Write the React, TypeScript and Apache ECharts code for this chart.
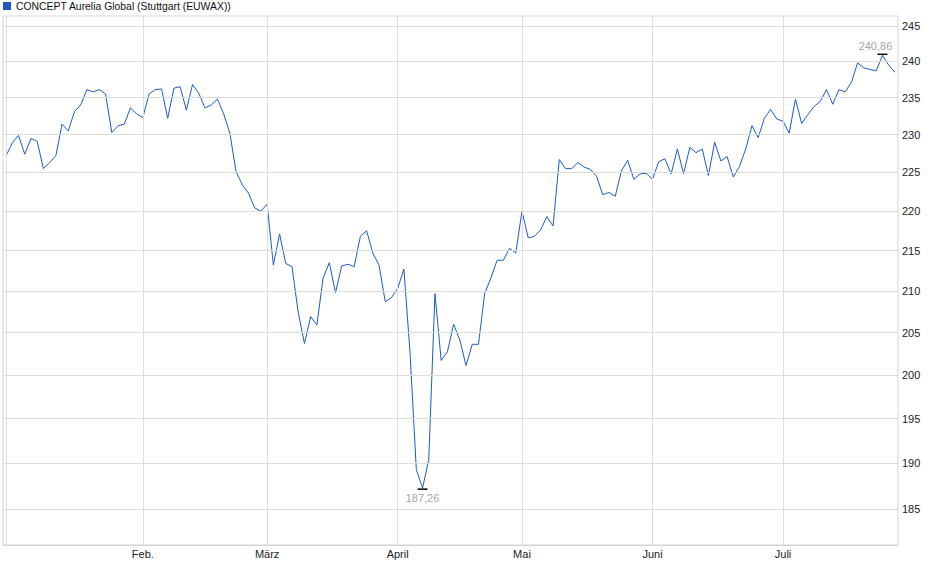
import React, { useEffect, useRef } from 'react';
import * as echarts from 'echarts';

const seriesName = 'CONCEPT Aurelia Global (Stuttgart (EUWAX))';

// trading days (Stuttgart) from 2 Jan to 25 Jul 2025
const holidays = ['2025-01-01', '2025-04-18', '2025-04-21', '2025-05-01'];
const monthLabels = ['', 'Feb.', 'März', 'April', 'Mai', 'Juni', 'Juli'];
const yTicks = [185, 190, 195, 200, 205, 210, 215, 220, 225, 230, 235, 240, 245];

const prices = [
  227.2, 228.9, 229.9, 227.4, 229.5, 229.1, 225.5, 226.3, 227.2, 231.4,
  230.5, 233.1, 234.0, 236.1, 235.8, 236.1, 235.5, 230.3, 231.2, 231.4,
  233.6, 232.8, 232.3, 235.5, 236.1, 236.2, 232.2, 236.3, 236.5, 233.3,
  236.8, 235.6, 233.6, 234.0, 234.8, 232.8, 230.2, 225.1, 223.4, 222.3,
  220.4, 220.0, 220.9, 213.2, 217.1, 213.4, 213.0, 207.4, 203.7, 206.9,
  205.9, 211.6, 213.5, 209.8, 213.1, 213.3, 213.0, 216.8, 217.5, 214.7,
  213.2, 208.7, 209.2, 210.3, 212.7, 202.5, 189.3, 187.26, 190.4, 209.7,
  201.7, 202.7, 206.0, 204.1, 201.1, 203.6, 203.6, 209.7, 211.6, 213.8,
  213.8, 215.3, 214.7, 220.0, 216.6, 216.8, 217.6, 219.3, 218.1, 226.7,
  225.5, 225.5, 226.3, 225.7, 225.4, 224.5, 222.1, 222.4, 221.9, 225.2,
  226.6, 224.1, 224.8, 224.9, 224.1, 226.4, 226.8, 224.8, 228.1, 224.8,
  228.3, 227.6, 228.1, 224.6, 229.0, 226.5, 227.1, 224.4, 225.8, 228.1,
  231.2, 229.6, 232.2, 233.4, 232.1, 231.8, 230.2, 234.8, 231.5, 232.7,
  233.8, 234.5, 236.1, 234.1, 236.1, 235.8, 237.1, 239.8, 239.1, 238.9,
  238.7, 240.86, 239.5, 238.5,
];

function tradingDays(from: string, to: string): string[] {
  const out: string[] = [];
  const d = new Date(from + 'T00:00:00Z');
  const end = new Date(to + 'T00:00:00Z');
  while (d <= end) {
    const iso = d.toISOString().slice(0, 10);
    const wd = d.getUTCDay();
    if (wd !== 0 && wd !== 6 && !holidays.includes(iso)) out.push(iso);
    d.setUTCDate(d.getUTCDate() + 1);
  }
  return out;
}

const dates = tradingDays('2025-01-02', '2025-07-25');

// first trading day of each month
const monthStarts: number[] = [];
dates.forEach((d, i) => {
  if (i === 0 || d.slice(5, 7) !== dates[i - 1].slice(5, 7)) monthStarts.push(i);
});

const FONT = "'Liberation Sans', Arial, sans-serif";
const GRID_COLOR = '#dcdcdc';
const LINE_COLOR = '#1c5bc4';

const fmt = (v: number) => v.toFixed(2).replace('.', ',');

const App: React.FC = () => {
  const chartRef = useRef<HTMLDivElement>(null);

  useEffect(() => {
    const chart = echarts.init(chartRef.current!, undefined, { renderer: 'svg' });

    const gridLines: any[] = [
      ...yTicks.map((v) => ({
        yAxis: v,
        label: {
          show: true,
          position: 'end',
          distance: 4,
          color: '#222',
          fontSize: 11,
          fontFamily: FONT,
          formatter: String(v),
        },
      })),
      ...monthStarts.map((i) => ({ xAxis: dates[i], label: { show: false } })),
    ];

    const option: echarts.EChartsOption = {
      animation: false,
      textStyle: { fontFamily: FONT },
      legend: {
        data: [seriesName],
        left: 3,
        top: 1,
        padding: 0,
        icon: 'rect',
        itemWidth: 8,
        itemHeight: 8,
        itemGap: 4,
        textStyle: { fontSize: 10.4, color: '#111', fontFamily: FONT },
      },
      grid: {
        left: 3,
        right: 42,
        top: 16,
        bottom: 34,
        show: true,
        borderColor: '#d4d4d4',
        borderWidth: 1,
        containLabel: false,
      },
      xAxis: {
        type: 'category',
        data: dates,
        boundaryGap: true,
        axisLine: { show: true, lineStyle: { color: '#d4d4d4' } },
        axisTick: { show: false },
        splitLine: { show: false },
        axisLabel: {
          interval: (i: number) => monthStarts.includes(i) && monthLabels[monthStarts.indexOf(i)] !== '',
          formatter: (_v: string, i: number) => monthLabels[monthStarts.indexOf(i)] || '',
          color: '#222',
          fontSize: 11,
          fontFamily: FONT,
          margin: 3,
        },
      },
      yAxis: {
        type: 'log',
        position: 'right',
        min: 181.17,
        max: 246.43,
        axisLine: { show: false },
        axisTick: { show: false },
        axisLabel: { show: false },
        splitLine: { show: false },
      },
      series: [
        {
          name: 'grid',
          type: 'line',
          data: prices,
          symbol: 'none',
          silent: true,
          z: 1,
          lineStyle: { opacity: 0 },
          markLine: {
            silent: true,
            symbol: ['none', 'none'],
            lineStyle: { color: GRID_COLOR, type: 'solid', width: 1 },
            data: gridLines,
          },
        },
        {
          name: seriesName,
          type: 'line',
          data: prices,
          symbol: 'none',
          z: 3,
          color: LINE_COLOR,
          lineStyle: { color: LINE_COLOR, width: 1 },
          markPoint: {
            silent: true,
            symbol: 'rect',
            symbolSize: [10, 1.5],
            itemStyle: { color: '#000' },
            label: {
              color: '#a9a39b',
              fontSize: 11,
              fontFamily: FONT,
              formatter: (p: any) => fmt(p.value),
            },
            data: [
              { type: 'max', symbolOffset: [0, -1], label: { position: 'top', distance: 2, offset: [-7, 0] } },
              { type: 'min', symbolOffset: [0, 1], label: { position: 'bottom', distance: 3 } },
            ],
          },
        },
      ],
    };

    chart.setOption(option);

    return () => {
      chart.dispose();
    };
  }, []);

  return (
    <div
      ref={chartRef}
      style={{ position: 'fixed', left: 0, top: 0, width: '940px', height: '579px', background: '#fff' }}
    />
  );
};

export default App;
